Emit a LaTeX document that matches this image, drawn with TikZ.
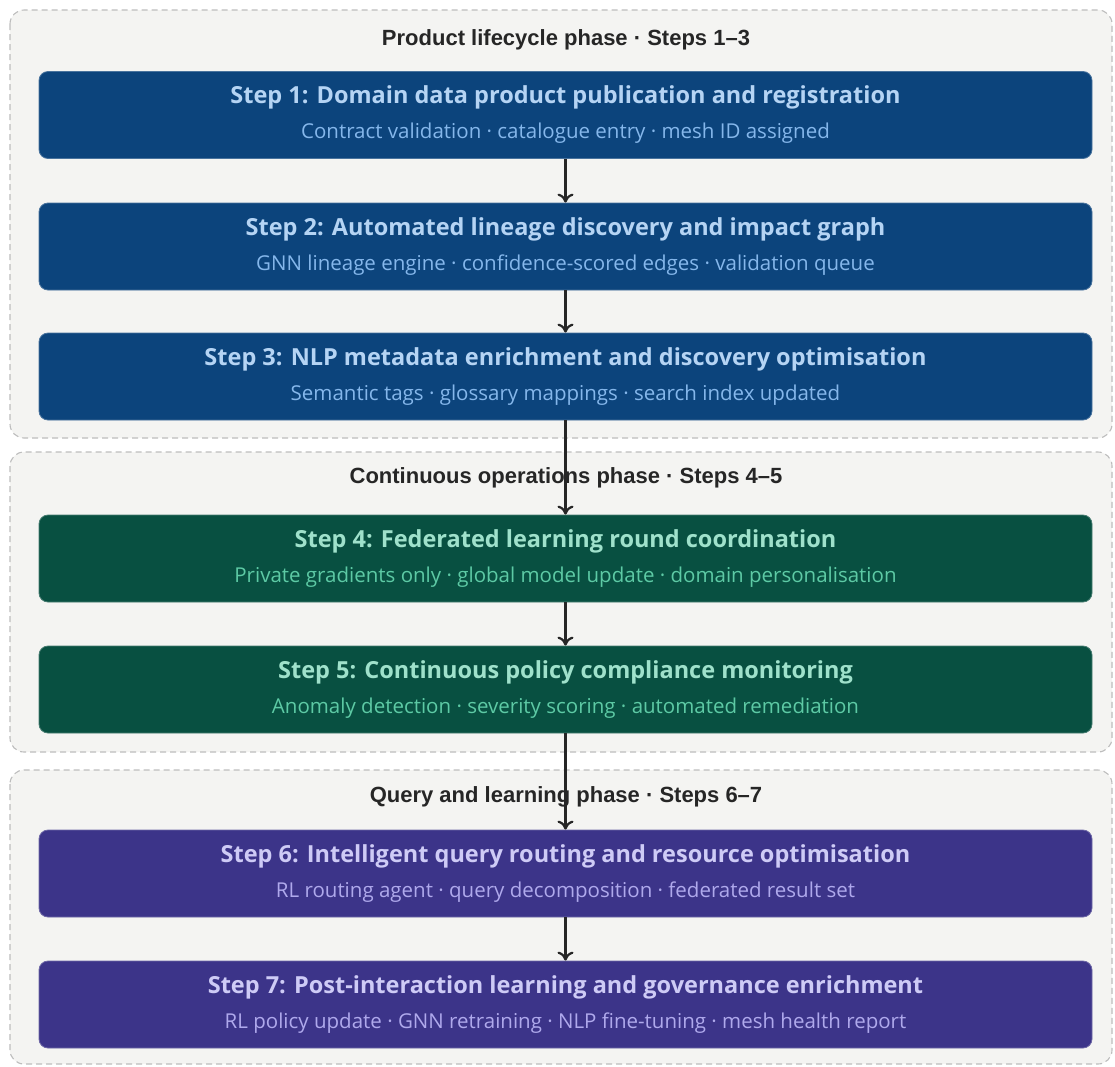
\documentclass[tikz,border=0pt]{standalone}
\usepackage{fontspec}
\setmainfont{Open Sans}
\newfontfamily\phasefont{Liberation Sans}
\usepackage{tikz}
\usetikzlibrary{arrows.meta,positioning}
\definecolor{phasefill}{HTML}{F4F4F2}
\definecolor{phaseline}{HTML}{BDBDBD}
\definecolor{bluefill}{HTML}{0C447C}
\definecolor{bluetitle}{HTML}{B5D4F4}
\definecolor{bluesub}{HTML}{85B7EB}
\definecolor{greenfill}{HTML}{085041}
\definecolor{greentitle}{HTML}{9FE1CB}
\definecolor{greensub}{HTML}{5DCAA5}
\definecolor{purplefill}{HTML}{3C3489}
\definecolor{purpletitle}{HTML}{CECBF6}
\definecolor{purplesub}{HTML}{AFA9EC}

\begin{document}
\begin{tikzpicture}[x=1pt,y=-1pt,
    phasebox/.style={draw=phaseline, fill=phasefill, line width=1.1pt,
      dash pattern=on 6pt off 4pt, rounded corners=14pt},
    phasetitle/.style={font=\phasefont\fontsize{22}{26}\selectfont\bfseries, text=black!85},
    stepbox/.style={rounded corners=9pt, minimum width=1053pt, minimum height=87pt,
      align=center, inner sep=0pt, line width=0.8pt,
      font=\fontsize{23.5}{28}\selectfont\bfseries},
    bluestep/.style={stepbox, fill=bluefill, draw=bluefill!75!white, text=bluetitle},
    greenstep/.style={stepbox, fill=greenfill, draw=greenfill!75!white, text=greentitle},
    purplestep/.style={stepbox, fill=purplefill, draw=purplefill!75!white, text=purpletitle},
    flow/.style={-{To[length=9pt,width=16pt]}, line width=2.2pt, black!85}]
        \useasboundingbox (0,0) rectangle (1115,1066);
        % Phase containers
        \draw[phasebox] (10,10) rectangle (1112,438);
        \draw[phasebox] (10,452) rectangle (1112,752);
        \draw[phasebox] (10,770) rectangle (1112,1064);
        % Phase titles
        \node[phasetitle] (p1) at (566,40) {Product lifecycle phase · Steps 1–3};
        \node[phasetitle] (p2) at (566,478) {Continuous operations phase · Steps 4–5};
        \node[phasetitle] (p3) at (566,797) {Query and learning phase · Steps 6–7};
        % Steps 1--3
        \node[bluestep] (s1) at (565.5,115) {Step 1: Domain data product publication and registration\\[7pt]
          {\fontsize{20.5}{24}\selectfont\mdseries\color{bluesub} Contract validation · catalogue entry · mesh ID assigned}};
        \node[bluestep] (s2) at (565.5,246.5) {Step 2: Automated lineage discovery and impact graph\\[7pt]
          {\fontsize{20.5}{24}\selectfont\mdseries\color{bluesub} GNN lineage engine · confidence-scored edges · validation queue}};
        \node[bluestep] (s3) at (565.5,376.5) {Step 3: NLP metadata enrichment and discovery optimisation\\[7pt]
          {\fontsize{20.5}{24}\selectfont\mdseries\color{bluesub} Semantic tags · glossary mappings · search index updated}};
        % Steps 4--5
        \node[greenstep] (s4) at (565.5,558.5) {Step 4: Federated learning round coordination\\[7pt]
          {\fontsize{20.5}{24}\selectfont\mdseries\color{greensub} Private gradients only · global model update · domain personalisation}};
        \node[greenstep] (s5) at (565.5,689.5) {Step 5: Continuous policy compliance monitoring\\[7pt]
          {\fontsize{20.5}{24}\selectfont\mdseries\color{greensub} Anomaly detection · severity scoring · automated remediation}};
        % Steps 6--7
        \node[purplestep] (s6) at (565.5,873.5) {Step 6: Intelligent query routing and resource optimisation\\[7pt]
          {\fontsize{20.5}{24}\selectfont\mdseries\color{purplesub} RL routing agent · query decomposition · federated result set}};
        \node[purplestep] (s7) at (565.5,1004.5) {Step 7: Post-interaction learning and governance enrichment\\[7pt]
          {\fontsize{20.5}{24}\selectfont\mdseries\color{purplesub} RL policy update · GNN retraining · NLP fine-tuning · mesh health report}};
        % Flow arrows
        \draw[flow] (s1) -- (s2);
        \draw[flow] (s2) -- (s3);
        \draw[flow] (s3) -- (s4);
        \draw[flow] (s4) -- (s5);
        \draw[flow] (s5) -- (s6);
        \draw[flow] (s6) -- (s7);
      \end{tikzpicture}
\end{document}
